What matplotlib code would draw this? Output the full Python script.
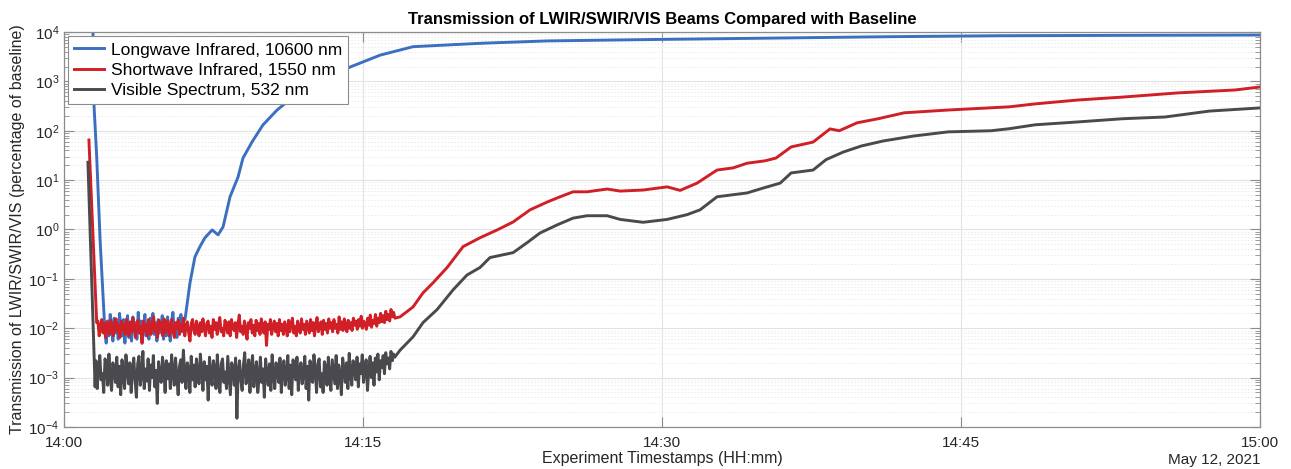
import numpy as np
import pandas as pd
import matplotlib
matplotlib.use("Agg")
import matplotlib.pyplot as plt
import matplotlib.dates as mdates
from matplotlib.ticker import LogLocator, NullFormatter

plt.rcParams['font.family'] = ['Liberation Sans', 'DejaVu Sans']
plt.rcParams['axes.unicode_minus'] = False

t0 = pd.Timestamp("2021-05-12 14:00:00")

# minutes after 14:00 / transmission in % of baseline
# --- LWIR 10600 nm
lw_head_t = [1.45, 1.51, 1.64, 1.81, 1.96]
lw_head_v = [12000, 300, 30, 0.62, 0.044]
lw_noise_span = (2.05, 6.0)
lw_noise = [0.9, 0.5, 1.4, 0.7, 1.9, 1.1, 0.55, 1.6, 0.8, 1.3, 0.6, 2.0, 1.0, 0.7, 1.5, 0.5, 1.2, 1.8, 0.65, 1.1,
            0.55, 1.7, 0.9, 1.3, 0.6, 2.1, 0.8, 1.4, 0.5, 1.0, 1.9, 0.7, 1.2, 0.6, 1.6, 0.9, 2.0, 0.75, 1.3, 0.55,
            1.5, 0.8, 1.1, 1.8, 0.6, 1.3, 0.7, 1.7, 0.95, 0.55, 1.4, 2.1, 0.8, 1.2, 0.65, 1.6, 1.0, 1.9, 0.85, 1.4]  # x 1e-2
lw_tail_t = [6.07, 6.32, 6.57, 6.82, 7.07, 7.43, 7.73, 7.98, 8.33, 8.73, 8.98, 9.43,
             9.98, 10.69, 11.49, 12.5, 13.5, 14.35, 15.86, 17.51, 20.87, 24.24,
             30.26, 35.93, 41.0, 46.96, 53.0, 60.0]
lw_tail_v = [0.015, 0.083, 0.28, 0.45, 0.68, 0.98, 0.78, 1.13, 4.6, 11.5, 28, 59,
             131, 263, 480, 850, 1350, 1950, 3400, 5040, 5900, 6600,
             7110, 7560, 8000, 8400, 8550, 8690]

# --- SWIR 1550 nm
sw_head_t = [1.25, 1.64]
sw_head_v = [65, 0.013]
sw_noise_span = (1.7, 16.6)
sw_noise = [1.4, 0.7, 1.1, 1.5, 0.8, 1.25, 0.65, 1.35, 0.95, 0.75, 1.45, 1.0, 0.7, 1.3, 1.55, 0.85, 1.15, 0.65, 1.4, 0.9,
            1.2, 0.75, 1.5, 1.05, 0.7, 1.35, 0.85, 1.6, 0.95, 0.65, 1.25, 1.45, 0.8, 1.1, 0.5, 1.4, 0.9, 1.2, 0.7, 1.5,
            1.0, 0.75, 1.35, 1.7, 0.85, 1.15, 0.65, 1.45, 0.95, 1.3, 0.7, 1.55, 0.8, 1.2, 1.4, 0.7, 1.05, 1.5, 0.85, 0.65,
            1.3, 1.0, 1.45, 0.75, 1.2, 0.9, 1.6, 0.7, 1.1, 1.35, 0.8, 0.55, 1.25, 1.5, 0.9, 0.75, 1.4, 1.05, 0.7, 1.3,
            0.85, 1.55, 1.0, 0.7, 1.25, 1.4, 0.8, 1.1, 0.65, 1.5, 0.95, 1.3, 0.75, 1.2, 1.65, 0.85, 1.0, 0.7, 1.45, 1.15,
            0.8, 1.35, 0.7, 1.5, 1.05, 0.9, 1.3, 0.65, 1.2, 1.85, 0.85, 1.1, 0.75, 1.4, 0.95, 0.6, 1.3, 1.0, 1.5, 0.8,
            1.15, 0.7, 1.45, 0.9, 1.25, 0.75, 1.55, 1.0, 0.8, 1.35, 0.45, 1.2, 0.95, 1.5, 0.75, 1.1, 1.4, 0.85, 1.25, 0.7,
            1.5, 0.9, 1.2, 0.75, 1.35, 1.05, 0.7, 1.45, 0.85, 1.25, 1.6, 0.8, 1.1, 0.7, 1.4, 1.0, 0.8, 1.55, 0.95, 1.2,
            0.75, 1.4, 1.05, 0.8, 1.5, 0.9, 1.3, 0.7, 1.2, 1.65, 0.85, 1.1, 1.35, 0.75, 1.45, 0.95, 1.25, 0.8, 1.55, 1.0,
            1.3, 0.85, 1.5, 1.0, 1.2, 0.8, 1.7, 0.95, 1.35, 0.9, 1.55, 1.1, 0.85, 1.45, 1.0, 1.3, 0.9, 1.6, 1.15, 1.4,
            0.95, 1.5, 1.1, 1.75, 1.0, 1.4, 1.2, 0.95, 1.6, 1.15, 1.85, 1.05, 1.45, 1.25, 1.9, 1.1, 1.6, 1.3, 2.0, 1.35,
            1.8, 1.3, 2.2, 1.5, 1.9, 1.4, 2.4, 1.7, 2.1, 1.6]  # x 1e-2
sw_tail_t = [16.86, 17.51, 18.01, 18.51, 19.22, 20.02, 20.87, 21.73, 22.53, 23.38,
             24.24, 24.89, 25.54, 26.24, 27.25, 27.9, 29.05, 30.26, 30.91, 31.76,
             32.76, 33.57, 34.27, 35.17, 35.72, 36.48, 37.58, 38.43, 38.89, 39.79,
             40.84, 42.15, 44.36, 47.42, 48.72, 50.88, 53.09, 55.9, 58.76, 60.0]
sw_tail_v = [0.017, 0.027, 0.052, 0.083, 0.17, 0.45, 0.68, 0.98, 1.42, 2.5,
             3.6, 4.6, 5.8, 5.8, 6.6, 6.0, 6.3, 7.3, 6.2, 8.7,
             16, 17.7, 22, 24.6, 28, 47, 59, 109, 100, 145,
             175, 231, 263, 305, 350, 420, 480, 585, 670, 770]

# --- VIS 532 nm
vis_head_t = [1.2, 1.56]
vis_head_v = [23, 0.00065]
vis_noise_span = (1.6, 16.6)
vis_noise = [2.2, 0.6, 1.5, 2.8, 0.9, 1.2, 0.5, 2.4, 1.8, 0.7, 3.0, 1.0, 0.55, 2.0, 1.4, 0.8, 2.6, 0.65, 1.7, 0.45,
             2.3, 1.1, 0.6, 2.9, 1.6, 0.75, 2.0, 0.5, 1.3, 2.5, 0.9, 0.4, 1.9, 2.7, 0.7, 1.2, 3.4, 0.6, 1.5, 0.85,
             2.4, 0.55, 1.8, 1.0, 2.8, 0.65, 1.4, 0.3, 2.1, 1.1, 0.8, 2.6, 1.6, 0.5, 2.2, 0.95, 1.9, 0.6, 2.9, 1.3,
             0.7, 2.5, 1.0, 0.45, 1.7, 2.3, 0.8, 3.6, 1.2, 0.6, 2.0, 1.5, 0.5, 2.7, 0.9, 1.8, 0.65, 2.4, 1.1, 0.75,
             3.0, 1.4, 0.55, 2.1, 0.9, 1.7, 0.35, 2.6, 1.2, 0.7, 2.2, 1.5, 0.6, 2.9, 1.0, 0.5, 1.9, 2.4, 0.8, 1.3,
             0.6, 2.7, 1.1, 0.45, 2.0, 1.6, 0.7, 2.5, 0.15, 1.4, 2.2, 0.9, 0.55, 1.8, 3.2, 0.75, 1.2, 2.3, 0.5, 1.7,
             2.8, 0.65, 1.3, 2.1, 0.5, 1.0, 2.6, 0.8, 1.5, 0.4, 2.4, 1.2, 0.7, 1.9, 0.55, 2.9, 1.1, 0.6, 2.0, 1.4,
             0.8, 2.5, 0.5, 1.6, 2.2, 0.7, 1.1, 2.8, 0.6, 1.8, 0.45, 2.3, 1.3, 0.9, 2.6, 0.55, 1.5, 2.0, 0.75, 1.2,
             2.7, 0.6, 1.7, 0.35, 2.2, 1.0, 0.8, 2.9, 1.4, 0.5, 1.9, 2.4, 0.65, 1.2, 0.5, 2.1, 1.6, 0.7, 2.6, 1.0,
             0.55, 2.3, 1.3, 0.75, 2.8, 0.6, 1.8, 1.1, 0.45, 2.5, 1.5, 0.8, 2.0, 0.6, 3.1, 1.2, 0.7, 2.2, 1.6, 0.9,
             2.6, 0.65, 1.9, 1.2, 2.9, 0.8, 1.6, 2.3, 0.55, 1.4, 2.7, 1.0, 2.0, 0.7, 2.5, 1.3, 3.0, 0.9, 2.2, 1.6,
             2.8, 1.2, 3.2, 1.9, 2.5, 1.5, 3.4, 2.2, 3.0, 2.6]  # x 1e-3
vis_tail_t = [16.86, 17.51, 18.01, 18.72, 19.52, 20.22, 20.87, 21.37, 22.53, 23.23,
              23.88, 24.74, 25.54, 26.24, 27.25, 27.9, 29.05, 30.26, 31.26, 31.91,
              32.76, 34.27, 35.07, 35.93, 36.48, 37.58, 38.23, 39.09, 39.99, 41.09,
              42.6, 44.36, 46.51, 47.42, 48.72, 50.88, 53.09, 55.24, 57.45, 60.0]
vis_tail_v = [0.0036, 0.0067, 0.013, 0.024, 0.060, 0.12, 0.17, 0.27, 0.34, 0.54,
              0.85, 1.24, 1.7, 1.9, 1.9, 1.6, 1.4, 1.6, 2.0, 2.5,
              4.6, 5.5, 6.9, 8.7, 14, 16, 26, 37, 49, 62,
              78, 95, 100, 110, 132, 151, 175, 190, 250, 290]

labels = ["Longwave Infrared, 10600 nm", "Shortwave Infrared, 1550 nm",
          "Visible Spectrum, 532 nm"]
colors = ["#3b6fbf", "#d01f26", "#4a4a4e"]


def build(head_t, head_v, span, noise, scale, tail_t, tail_v):
    nt = np.linspace(span[0], span[1], len(noise))
    mins = np.concatenate([head_t, nt, tail_t])
    vals = np.concatenate([head_v, np.array(noise) * scale, tail_v])
    return t0 + pd.to_timedelta(mins, unit="min"), vals


series = [
    build(lw_head_t, lw_head_v, lw_noise_span, lw_noise, 1e-2, lw_tail_t, lw_tail_v),
    build(sw_head_t, sw_head_v, sw_noise_span, sw_noise, 1e-2, sw_tail_t, sw_tail_v),
    build(vis_head_t, vis_head_v, vis_noise_span, vis_noise, 1e-3, vis_tail_t, vis_tail_v),
]

fig = plt.figure(figsize=(12.91, 4.69), dpi=100)
ax = fig.add_axes([64 / 1291, 1 - 427 / 469, (1260 - 64) / 1291, (427 - 32) / 469])

for (t, v), c, lab in zip(series, colors, labels):
    ax.plot(t, v, color=c, lw=2.1, label=lab)

ax.set_yscale('log')
ax.set_ylim(1e-4, 1e4)
ax.set_xlim(t0, t0 + pd.Timedelta(minutes=60))
ax.yaxis.set_major_locator(LogLocator(base=10, numticks=20))
ax.yaxis.set_minor_locator(LogLocator(base=10, subs=np.arange(2, 10), numticks=20))
ax.yaxis.set_minor_formatter(NullFormatter())
ax.xaxis.set_major_locator(mdates.MinuteLocator(byminute=[0, 15, 30, 45]))
ax.xaxis.set_major_formatter(mdates.DateFormatter('%H:%M'))
ax.xaxis.get_offset_text().set_visible(False)
ax.yaxis.get_offset_text().set_visible(False)

ax.grid(True, which='major', color='#e3e3e3', lw=0.8)
ax.grid(True, which='minor', axis='y', color='#ebebeb', lw=0.6, ls=(0, (2, 2)))
ax.set_axisbelow(True)

for s in ax.spines.values():
    s.set_color('#8c8c8c')
    s.set_linewidth(0.9)
ax.tick_params(which='both', direction='in', top=True, right=True,
               colors='#8c8c8c', labelcolor='#262626', labelsize=11)
ax.tick_params(which='major', length=7, width=0.8)
ax.tick_params(which='minor', length=3.5, width=0.6)
ax.tick_params(axis='x', pad=6.5)

ax.set_title("Transmission of LWIR/SWIR/VIS Beams Compared with Baseline",
             fontsize=12, fontweight='bold', pad=6)
ax.set_ylabel("Transmission of LWIR/SWIR/VIS (percentage of baseline)",
              fontsize=11.5, color='#262626', labelpad=2)
ax.set_xlabel("Experiment Timestamps (HH:mm)", fontsize=11.5, color='#262626',
              labelpad=1)
fig.text(1260 / 1291, 1 - 460 / 469, "May 12, 2021", ha='right', va='center',
         fontsize=11, color='#262626')

leg = ax.legend(loc='upper left', fontsize=12.5, frameon=True, fancybox=False,
                edgecolor='#8c8c8c', framealpha=1, borderpad=0.35,
                labelspacing=0.3, handlelength=1.7, handletextpad=0.4,
                borderaxespad=0.25)
leg.get_frame().set_linewidth(0.8)

fig.savefig("out.png", dpi=100)
